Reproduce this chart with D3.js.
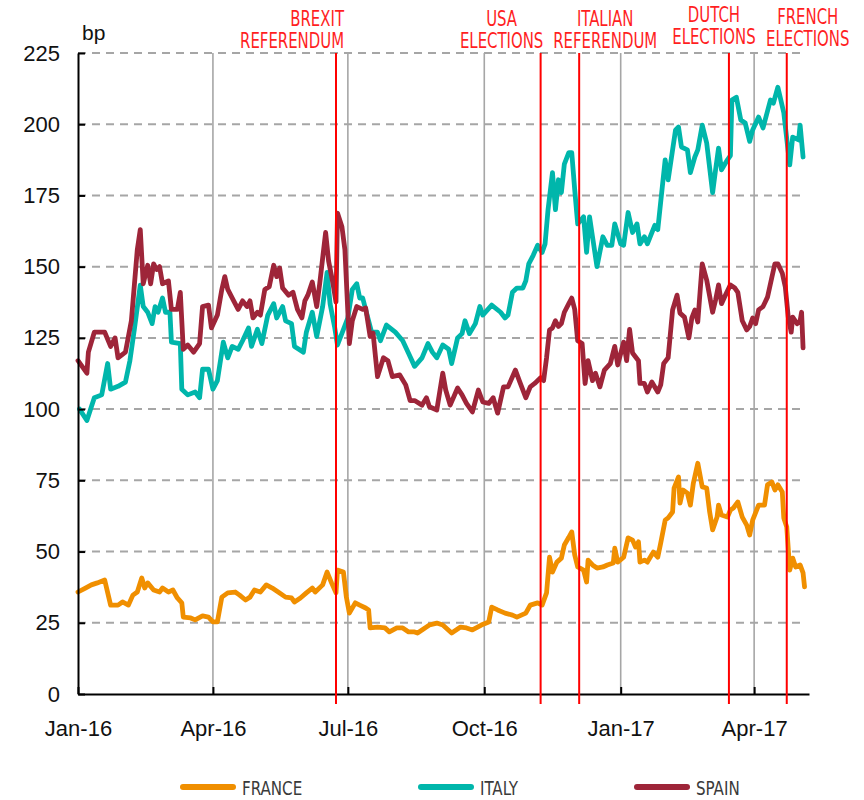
<!DOCTYPE html>
<html>
<head>
<meta charset="utf-8">
<script src="https://cdnjs.cloudflare.com/ajax/libs/d3/7.8.5/d3.min.js"></script>
<style>
body { margin: 0; background: #fff; }
text { font-family: "Liberation Sans", Arial, Helvetica, sans-serif; }
.narrow { font-family: "Liberation Sans Narrow", "Arial Narrow", "DejaVu Sans Condensed", sans-serif; }
</style>
</head>
<body>
<script>
// dates are kept as days counted from 1 Jan 2016
var startDate = new Date(2016, 0, 1);
var endDate = new Date(2017, 4, 8);

var seriesNames = ["FRANCE", "ITALY", "SPAIN"];
var seriesColors = ["#f08f00", "#00b6ab", "#9e2539"];

var france = [[0,35.8],[5,37.2],[9,38.3],[13,39],[18,40],[22,31.2],[27,31.2],[30,32.3],[34,31.2],[37,34.7],
    [40,35.8],[43,40.7],[45,37.2],[47,39],[51,36.5],[55,35.8],[57,37.2],[61,35.8],[64,36.5],[67,33.7],
    [70,32],[71,27],[76,26.7],[79,26],[84,27.4],[88,27],[91,25.3],[94,25.3],[97,34],[101,35.5],
    [106,35.8],[109,34.7],[113,33],[116,34],[119,36.5],[123,35.8],[127,38.3],[131,37.2],[135,35.8],[140,34],
    [144,33.7],[146,32.3],[150,33.7],[154,35.5],[158,37.2],[160,35.8],[165,38.3],[168,42.8],[171,39],[174,35.5],
    [175,43.5],[179,42.8],[181,34],[183,28.4],[187,32],[190,31.2],[194,30.2],[196,29.5],[197,23.2],[202,23.5],
    [207,23.2],[210,21.8],[215,23.2],[219,23.2],[223,21.8],[227,21.8],[229,21.4],[234,23.2],[237,24.2],[242,24.9],
    [246,24.2],[252,21.4],[258,23.5],[262,23.2],[266,22.5],[272,24.2],[277,25.3],[279,30.5],[283,29.5],[288,28.4],
    [293,27.7],[296,27],[302,28.4],[305,31.2],[310,32],[313,31.2],[316,35.5],[318,48],[320,42.8],[323,46.3],
    [326,47.7],[328,52.3],[331,55],[333,56.9],[335,48.8],[337,44.6],[341,43.5],[343,39.3],[344,47],[347,45.3],
    [350,44.2],[354,44.6],[357,45.3],[361,46],[362,51.2],[364,46.3],[368,48],[371,54.8],[374,54],[376,51.6],
    [378,53.4],[379,46.3],[382,47],[384,46.3],[388,49.8],[391,48],[393,53],[396,61],[398,61.8],[401,63.9],
    [402,72.3],[405,76.2],[406,67],[408,71.6],[411,70.5],[413,66.3],[415,74],[418,81],[421,72.7],[424,72.3],
    [426,63.9],[428,57.6],[431,62.1],[432,66.3],[434,62.8],[438,62.1],[440,64.6],[442,65.3],[445,67.4],[448,62.1],
    [451,59.3],[453,55.8],[455,61],[459,66.3],[463,66.3],[465,73.4],[468,74.4],[470,71.6],[472,73.4],[475,70.9],
    [476,61.8],[478,58.6],[480,43.5],[482,47.7],[484,44.6],[487,45.3],[489,42.5],[490,37.6]];

var italy = [[1,100],[6,96],[11,104],[16,105],[20,116],[22,107],[27,108],[32,109.5],[35,117],[38,128],
    [42,143.5],[44,136],[47,134],[50,130],[52,136],[54,134],[57,139],[59,134],[62,134],[63,123.5],
    [69,123],[70,107],[74,105],[79,106],[82,104],[84,114],[88,114],[91,107],[94,110],[98,123.5],
    [101,118],[104,122],[108,121],[111,124],[115,128.5],[117,122],[121,128],[124,123],[128,133],[132,137],
    [134,132],[138,136],[140,131],[144,130],[146,122],[152,120],[154,127],[158,134],[161,125.5],[165,136],
    [168,148],[170,137],[173,129],[175,122.5],[182,132],[185,142],[188,144],[190,139],[192,139],[196,131],
    [198,127],[202,127],[204,124],[208,129.5],[214,127],[219,124],[223,119.5],[227,115],[232,118],[236,123],
    [239,120],[242,118],[246,122.5],[250,121],[252,116],[256,125],[259,126.5],[261,131],[264,126.5],[268,130],
    [271,136],[273,133],[279,136.5],[285,134],[288,132],[290,133],[293,141],[296,142.5],[300,142.5],[302,145],
    [304,151],[307,154],[310,157.5],[313,155],[315,158],[317,170],[320,183],[322,170],[324,180.5],[326,176],
    [328,186],[331,190],[333,190],[335,177],[337,165],[341,167.5],[343,155],[345,167.5],[347,160.5],[350,150],
    [354,160.5],[357,157.5],[360,157.5],[362,165],[366,158],[368,157.5],[371,169],[374,162],[377,165],[379,158],
    [382,160.5],[384,158],[389,164.5],[391,163],[396,187.5],[398,180.5],[403,198],[405,199],[407,192],[411,191],
    [413,183],[416,188.5],[418,191],[421,199.7],[424,193.4],[428,176],[430,184],[432,191.6],[434,184],[438,187.5],
    [440,189],[441,208.5],[444,209.5],[447,201.5],[450,200.4],[453,194],[455,198],[459,202.5],[462,198.7],[467,208.5],
    [469,207.4],[472,213],[476,204],[480,185.7],[482,195.5],[486,194.5],[487,199.7],[489,188.5]];

var spain = [[0,117],[6,112.6],[7,120],[11,127],[18,127],[22,122],[25,125],[27,118],[32,120],[36,131],
    [40,156],[42,163],[44,144],[47,150.5],[49,144],[51,151],[53,149],[55,150],[57,144],[61,145],
    [63,135],[67,135],[69,141],[71,121],[74,122.5],[78,120],[82,123],[84,136],[88,136.5],[90,128.5],
    [94,133],[97,142],[99,146.5],[101,142],[105,138],[108,135],[111,138],[114,136],[116,138],[118,132],
    [121,134],[123,133],[126,142],[129,143],[132,150.5],[134,146.5],[136,149.5],[138,142.5],[142,140],[145,141],
    [148,135],[151,132],[153,138],[155,140],[158,144.6],[161,136],[163,144],[165,153],[167,162],[169,152],
    [172,144],[174,137.6],[175,168.8],[178,164],[180,156],[183,123],[185,131],[188,136],[192,135],[194,135.5],
    [197,125.5],[199,126.7],[202,111.4],[206,118],[209,117],[212,111.4],[217,112],[221,108.5],[224,103],[227,103],
    [232,101.4],[235,104],[237,100.8],[242,99.7],[246,112.6],[248,106.7],[251,101.4],[256,107.4],[259,105],[262,102],
    [266,99],[270,106.7],[273,102.5],[277,102],[280,104],[283,98.6],[287,107.8],[290,107.8],[295,113.7],[298,109.5],
    [302,104],[305,107.8],[308,109],[312,111],[314,110],[316,118],[318,127.8],[320,128.5],[322,131],[324,129],
    [326,130],[328,134],[331,137],[333,139],[335,135],[337,124],[340,123],[342,109],[344,117],[347,110],
    [349,112.6],[352,107.8],[355,113.7],[359,116],[362,122],[364,115.5],[368,123.5],[370,117],[372,128],[374,119.7],
    [378,117],[379,109],[382,109],[384,106],[387,109.5],[391,106],[393,108.5],[395,116],[398,118],[401,134.8],
    [404,140],[406,133.7],[409,132.3],[412,125],[414,132],[416,134.8],[418,130.6],[420,144.3],[421,151],[424,145.3],
    [428,134],[430,138.3],[432,143.6],[434,137],[436,139.3],[440,143.6],[443,142.5],[445,141],[448,131],[451,127.8],
    [453,129],[455,132],[457,130],[459,134.8],[462,136],[465,139.3],[468,146.4],[470,151],[472,151],[475,147.7],
    [477,143],[479,132.3],[481,127],[482,132.3],[485,130],[487,131],[488,134],[489,121.5]];

var eventDates = ["2016-06-23", "2016-11-08", "2016-12-04", "2017-03-15", "2017-04-23"];
var eventLabels = [["BREXIT", "REFERENDUM"], ["USA", "ELECTIONS"], ["ITALIAN", "REFERENDUM"],
    ["DUTCH", "ELECTIONS"], ["FRENCH", "ELECTIONS"]];

var yTicks = [0, 25, 50, 75, 100, 125, 150, 175, 200, 225];
var yUnit = "bp";

var width = 864,
    height = 800;

var svg = d3.select('body')
    .append('svg')
    .attr('width', width)
    .attr('height', height);

var x = d3.scaleTime().domain([startDate, endDate]).range([78, 809]);
var y = d3.scaleLinear().domain([0, 225]).range([694, 53]);

function dayToDate(d) {
    return d3.timeDay.offset(startDate, d);
}

var quarterTicks = d3.timeMonth.every(3).range(startDate, endDate);

// grid
svg.append("g").selectAll("line")
    .data(yTicks.filter(function (d) { return d > 0; }))
    .enter().append("line")
    .attr("x1", x.range()[0])
    .attr("x2", 806)
    .attr("y1", function (d) { return y(d); })
    .attr("y2", function (d) { return y(d); })
    .attr("stroke", "#a6a6a6")
    .attr("stroke-width", 2)
    .attr("stroke-dasharray", "8,6");

svg.append("g").selectAll("line")
    .data(quarterTicks.slice(1))
    .enter().append("line")
    .attr("x1", function (d) { return x(d); })
    .attr("x2", function (d) { return x(d); })
    .attr("y1", y(225))
    .attr("y2", y(0))
    .attr("stroke", "#a6a6a6")
    .attr("stroke-width", 1.6);

// series
var line = d3.line()
    .x(function (d) { return x(dayToDate(d[0])); })
    .y(function (d) { return y(d[1]); });

var allSeries = [france, italy, spain];
for (var i = 0; i < allSeries.length; ++i) {
    svg.append("path")
        .datum(allSeries[i])
        .attr("d", line)
        .attr("fill", "none")
        .attr("stroke", seriesColors[i])
        .attr("stroke-width", 4.8)
        .attr("stroke-linejoin", "round")
        .attr("stroke-linecap", "round");
}

// axes
var yAxis = svg.append("g")
    .attr("transform", "translate(" + x.range()[0] + ",0)")
    .call(d3.axisLeft(y).tickValues(yTicks).tickSize(-7).tickSizeOuter(0).tickPadding(18));

var xAxis = svg.append("g")
    .attr("transform", "translate(0," + y(0) + ")")
    .call(d3.axisBottom(x).tickValues(quarterTicks).tickFormat(d3.timeFormat("%b-%y"))
        .tickSize(-7).tickSizeOuter(0).tickPadding(26));

[yAxis, xAxis].forEach(function (a) {
    a.select(".domain").attr("stroke", "#000").attr("stroke-width", 2);
    a.selectAll(".tick line").attr("stroke", "#000").attr("stroke-width", 2);
    a.selectAll("text")
        .attr("fill", "#111")
        .style("font-size", "22px")
        .style("font-family", '"Liberation Sans", Arial, sans-serif');
});

svg.append("text")
    .attr("x", 82)
    .attr("y", 40)
    .attr("fill", "#111")
    .style("font-size", "21px")
    .text(yUnit);

// events
var labelLayout = [
    {anchor: "end", dx: 8, top: 26},
    {anchor: "middle", dx: -39, top: 26},
    {anchor: "middle", dx: 26, top: 26},
    {anchor: "middle", dx: -15, top: 22},
    {anchor: "middle", dx: 21, top: 24}
];

for (var e = 0; e < eventDates.length; ++e) {
    var ex = x(d3.timeParse("%Y-%m-%d")(eventDates[e]));
    svg.append("line")
        .attr("x1", ex)
        .attr("x2", ex)
        .attr("y1", y(225))
        .attr("y2", y(0) + 10)
        .attr("stroke", "#ff0000")
        .attr("stroke-width", 2);
    var g = svg.append("g")
        .attr("transform", "translate(" + (ex + labelLayout[e].dx) + "," + labelLayout[e].top + ") scale(0.79,1)");
    for (var l = 0; l < eventLabels[e].length; ++l) {
        g.append("text")
            .attr("class", "narrow")
            .attr("y", l * 22)
            .attr("text-anchor", labelLayout[e].anchor)
            .attr("fill", "#ff1f1f")
            .style("font-size", "21px")
            .text(eventLabels[e][l]);
    }
}

// legend
var legendX = [183, 421, 637];
for (var k = 0; k < seriesNames.length; ++k) {
    svg.append("line")
        .attr("x1", legendX[k])
        .attr("x2", legendX[k] + 50)
        .attr("y1", 787)
        .attr("y2", 787)
        .attr("stroke", seriesColors[k])
        .attr("stroke-width", 6)
        .attr("stroke-linecap", "round");
    svg.append("text")
        .attr("class", "narrow")
        .attr("transform", "translate(" + (legendX[k] + 59) + ",795) scale(0.84,1)")
        .attr("fill", "#3a3a3a")
        .style("font-size", "20px")
        .text(seriesNames[k]);
}
</script>
</body>
</html>
